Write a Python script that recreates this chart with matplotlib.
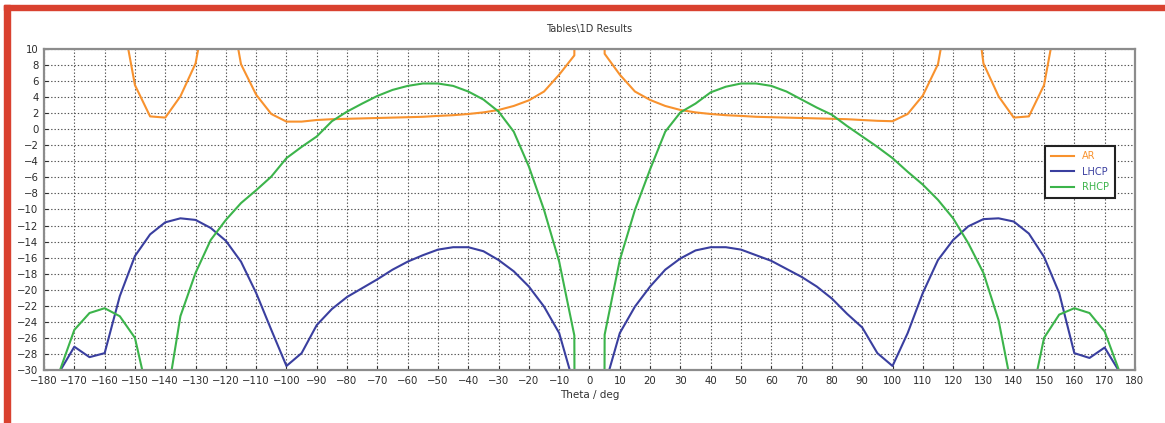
import matplotlib
matplotlib.use('Agg')

import numpy as np
import matplotlib.pyplot as plt
from matplotlib.patches import Rectangle

# theta grid, with a gap around 0 deg where the curves drop out
theta = [-180, -175, -170, -165, -160, -155, -150, -145, -140, -135, -130,
         -125, -120, -115, -110, -105, -100, -95, -90, -85, -80, -75, -70,
         -65, -60, -55, -50, -45, -40, -35, -30, -25, -20, -15, -10, -5, -4.7,
         4.7, 5, 10, 15, 20, 25, 30, 35, 40, 45, 50, 55, 60, 65, 70, 75, 80,
         85, 90, 95, 100, 105, 110, 115, 120, 125, 130, 135, 140, 145, 150,
         155, 160, 165, 170, 175, 180]

ar = [40, 35, 30, 25, 20, 15.7, 5.5, 1.6, 1.45, 4.1, 8.2,
      18.2, 18.6, 8.1, 4.3, 1.9, 0.95, 0.95, 1.15, 1.25, 1.3, 1.35, 1.4,
      1.45, 1.5, 1.55, 1.66, 1.75, 1.9, 2.1, 2.4, 2.9, 3.6, 4.7, 6.8, 9.2, 40,
      40, 9.4, 6.8, 4.7, 3.65, 2.9, 2.4, 2.1, 1.9, 1.75, 1.66, 1.55, 1.5, 1.45,
      1.4, 1.35, 1.3, 1.25, 1.15, 1.05, 1.0, 1.9, 4.2, 8.1, 18.6, 23, 8.2, 4.1,
      1.45, 1.6, 5.5, 15.7, 20, 25, 30, 35, 40]

lhcp = [-40, -30.3, -27.1, -28.4, -27.9, -20.8, -15.8, -13.1, -11.6, -11.1,
        -11.3, -12.3, -13.9, -16.5, -20.4, -25.0, -29.5, -27.9, -24.4, -22.4,
        -20.9, -19.8, -18.7, -17.5, -16.5, -15.7, -15.0, -14.7, -14.7, -15.2,
        -16.3, -17.7, -19.6, -22.1, -25.4, -32.0, -60,
        -60, -32.0, -25.4, -22.1, -19.6, -17.5, -16.1, -15.1, -14.7, -14.7,
        -15.0, -15.7, -16.4, -17.4, -18.4, -19.6, -21.1, -23.0, -24.7, -27.9,
        -29.5, -25.4, -20.4, -16.3, -13.8, -12.1, -11.2, -11.1, -11.5, -13.0,
        -15.9, -20.4, -27.9, -28.5, -27.2, -30.3, -40]

rhcp = [-50, -30.3, -25.0, -22.9, -22.3, -23.3, -26.0, -34.3, -34.9, -23.3,
        -17.9, -13.8, -11.3, -9.2, -7.6, -5.9, -3.6, -2.2, -0.9, 1.0, 2.2,
        3.2, 4.15, 4.9, 5.4, 5.7, 5.7, 5.4, 4.7, 3.7, 2.2, -0.3, -4.65,
        -10.05, -16.5, -25.7, -60,
        -60, -25.6, -16.3, -10.05, -5.0, -0.3, 2.1, 3.2, 4.6, 5.3, 5.7, 5.7,
        5.4, 4.7, 3.7, 2.7, 1.8, 0.4, -0.9, -2.2, -3.6, -5.3, -6.9, -8.8,
        -11.1, -14.2, -17.9, -23.8, -33.5, -35.1, -26.0, -23.1, -22.3, -22.9,
        -25.2, -30.3, -50]

colors = {'AR': '#F8922E', 'LHCP': '#3A3F9F', 'RHCP': '#3CB44B'}

fig = plt.figure(figsize=(11.65, 4.23), dpi=100)
ax = fig.add_axes([0.0378, 0.1253, 0.9364, 0.7589])

ax.plot(theta, ar, color=colors['AR'], lw=1.5, label='AR')
ax.plot(theta, lhcp, color=colors['LHCP'], lw=1.5, label='LHCP')
ax.plot(theta, rhcp, color=colors['RHCP'], lw=1.5, label='RHCP')

ax.set_xlim(-180, 180)
ax.set_ylim(-30, 10)
ax.set_xticks(np.arange(-180, 181, 10))
ax.set_yticks(np.arange(-30, 11, 2))
ax.grid(True, color='#505050', linestyle=(0, (1.2, 1.8)), linewidth=0.8)
ax.tick_params(labelsize=7.3, colors='#2b2b2b', length=3, direction='in',
               pad=4)
for sp in ax.spines.values():
    sp.set_color('#8c8c8c')
    sp.set_linewidth(1.6)

ax.set_title('Tables\\1D Results', fontsize=7, color='#333333', pad=12)
ax.set_xlabel('Theta / deg', fontsize=7.5, color='#333333', labelpad=3)

leg = ax.legend(loc='upper right', bbox_to_anchor=(0.986, 0.714),
                fancybox=False, framealpha=1, edgecolor='#222222',
                fontsize=7, handlelength=2.4, borderpad=0.6,
                labelspacing=0.55)
leg.get_frame().set_linewidth(1.5)
for txt, line in zip(leg.get_texts(), leg.get_lines()):
    txt.set_color(line.get_color())

# red frame from the source screenshot (top and left edges)
red = '#D9412F'
fig.patches.append(Rectangle((4 / 1165, 1 - 10 / 423), 1, 5 / 423,
                             transform=fig.transFigure, color=red))
fig.patches.append(Rectangle((4 / 1165, 0), 6 / 1165, 1 - 5 / 423,
                             transform=fig.transFigure, color=red))

fig.savefig('out.png', dpi=100)
